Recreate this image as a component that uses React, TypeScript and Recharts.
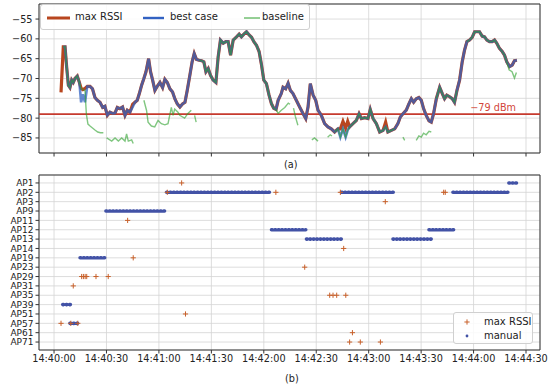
import React from 'react';
import {
  ComposedChart,
  Line,
  Scatter,
  XAxis,
  YAxis,
  CartesianGrid,
  ReferenceLine,
  ReferenceArea,
} from 'recharts';

const FONT = '"DejaVu Sans", sans-serif';

// ---- shared time axis (seconds after 14:40:00) ----
const timeTicks = [0, 30, 60, 90, 120, 150, 180, 210, 240, 270];
const timeLabels = [
  '14:40:00', '14:40:30', '14:41:00', '14:41:30', '14:42:00',
  '14:42:30', '14:43:00', '14:43:30', '14:44:00', '14:44:30',
];
const timeDomain: [number, number] = [-8.6, 278];

// ---- panel (a): RSSI traces ----
const rssiTicks = [-85, -80, -75, -70, -65, -60, -55];
const rssiDomain: [number, number] = [-88.8, -51.2];
const thresholdDbm = -79;

const sampleTimes = [
  4.0, 5.3, 6.3, 7.2, 8.2, 9.1, 10.1, 11, 12, 13.3, 14.5, 15.5, 16.5, 17.7, 19, 20.6, 22, 23.4, 24.8, 26.3,
  27.8, 29.1, 30.5, 32, 33.5, 34.9, 36.2, 37.7, 39.2, 40.6, 41.9, 43.4, 45, 46.3, 47.6, 48.8, 50.1, 51.4, 52.6, 54.1,
  55.2, 56.4, 57.7, 59, 60.6, 62.1, 63.4, 64.8, 66.3, 67.8, 69.1, 70.5, 72, 73.5, 74.9, 76.2, 77.7, 79, 80.2, 81.5,
  83, 84.4, 85.7, 86.9, 88.2, 89.5, 91, 92.6, 93.9, 95.2, 96.8, 98.3, 99.6, 101, 102.5, 104.4, 105.9, 107.2, 108.6, 110.1,
  111.6, 113, 114.3, 115.8, 117.3, 118.7, 120, 121.5, 123, 124.4, 125.7, 127, 128.2, 130, 131, 132.5, 133.9, 135.2, 136.7, 138.6,
  140.5, 142.5, 144, 145.3, 146.6, 148.2, 149.7, 151, 152.9, 154.8, 156.7, 158.6, 160.5, 162.4, 163.8, 165.3, 166.8, 168, 169.1, 171,
  172.9, 174.5, 175.8, 177.7, 179.6, 180.9, 182.5, 184.4, 186.3, 188.2, 189.7, 191, 193, 194.9, 196.7, 198.1, 199.6, 201.5, 203, 204.4,
  205.7, 207.2, 208.7, 210.1, 211.4, 212.9, 214.5, 215.8, 217.1, 218.7, 220.6, 222.1, 223.4, 224.7, 226.3, 227.8, 229.1, 230.5, 232, 233.5,
  234.8, 236.2, 237.7, 239.2, 240.6, 241.9, 243.4, 244.9, 246.3, 247.6, 249.1, 250.7, 252, 253.3, 254.8, 256.4, 257.7, 259, 260.6, 262.1,
  263.4, 264.8,
];

const maxRssi = [
  -73.5, -62, -62, -67, -71.7, -72.3, -70.4, -71, -70, -69.4, -71, -72.5, -72.8, -72.5, -72, -72, -72.6, -74.8, -75.5, -76,
  -77.3, -77, -79.3, -78.5, -78.8, -78.7, -77.3, -77.6, -77.2, -79.3, -78, -78.5, -76.5, -76, -75.5, -73.8, -71.7, -70, -68.3, -65,
  -68.3, -70.4, -73, -72, -71, -72.3, -70.2, -71, -72.6, -73.4, -75.1, -76.4, -77.2, -76.4, -76, -73, -69.2, -65.8, -63.7, -65.2,
  -65.4, -65.5, -65.8, -68.3, -67.5, -69.2, -70.4, -71, -64.5, -60.3, -61.1, -60.7, -60.7, -64.1, -60.3, -59.5, -58.8, -59.5, -58.8, -58.2,
  -59, -59.6, -60.7, -61.6, -63.2, -66.6, -70.4, -71.3, -74.2, -76.4, -77.5, -77.8, -75.5, -73.8, -72.2, -72.6, -71.2, -73, -73.8, -75.5,
  -77.2, -78.9, -80.1, -77.2, -71.3, -74.2, -75.5, -78, -79.3, -81.4, -82.2, -82.7, -83.5, -82.7, -82.7, -80.8, -82.5, -80.8, -82.2, -81.4,
  -80.6, -78.9, -80.1, -79.9, -80.1, -77.8, -80.1, -81.4, -83.5, -83.1, -81, -83.5, -83.1, -82.7, -81.4, -79.7, -78.9, -78, -76.4, -75.1,
  -76, -75.1, -74.8, -75.5, -77.6, -79.3, -80.7, -81, -78.9, -75.1, -72.2, -73.8, -75.1, -74.2, -74.6, -75.1, -76, -73, -70.4, -65.8,
  -62.9, -60.7, -60.3, -59.6, -58.2, -58.2, -58.2, -59.3, -59.5, -60.3, -60.7, -60.7, -60.3, -61.1, -62.4, -63.2, -64.1, -65.8, -67, -66.6,
  -65.5, -65.4,
];

const bestCase = [
  null, -62, -62, -67, -71.7, -72.3, -70.4, -71, -70, -69.4, -71, -76, -74, -76, -72, -72, -72.6, -74.8, -75.5, -76,
  -77.3, -77, -79.3, -78.5, -78.8, -78.7, -77.3, -77.6, -77.2, -79.3, -78, -78.5, -77.2, -76, -75.5, -73.8, -71.7, -70, -68.3, -65,
  -68.3, -70.4, -73, -72, -71, -72.3, -70.2, -71, -72.6, -73.4, -75.1, -76.4, -77.2, -76.4, -76, -73, -69.2, -65.8, -63.7, -65.2,
  -65.4, -65.5, -65.8, -68.3, -67.5, -69.2, -70.4, -71, -64.5, -60.3, -61.1, -60.7, -60.7, -64.1, -60.3, -59.5, -58.8, -59.5, -58.8, -58.2,
  -59, -59.6, -60.7, -61.6, -63.2, -66.6, -70.4, -71.3, -74.2, -76.4, -77.5, -77.8, -75.5, -73.8, -72.2, -72.6, -71.2, -73, -73.8, -75.5,
  -77.2, -78.9, -80.1, -77.2, -71.3, -74.2, -75.5, -78, -79.3, -81.4, -82.2, -82.7, -83.5, -82.7, -84.8, -82.7, -84.8, -83, -82.2, -81.4,
  -80.6, -78.9, -80.1, -79.9, -80.1, -77.8, -80.1, -81.4, -83.5, -83.1, -82.2, -83.5, -83.1, -82.7, -81.4, -79.7, -78.9, -78, -76.4, -75.1,
  -76, -75.1, -74.8, -75.5, -77.6, -79.3, -80.7, -81, -78.9, -75.1, -72.2, -73.8, -75.1, -74.2, -74.6, -75.1, -76, -73, -70.4, -65.8,
  -62.9, -60.7, -60.3, -59.6, -58.2, -58.2, -58.2, -59.3, -59.5, -60.3, -60.7, -60.7, -60.3, -61.1, -62.4, -63.2, -64.1, -65.8, -67, -66.6,
  -65.5, -65.4,
];

const baselineTimes = [
  5.3, 6.3, 7.2, 8.2, 9.1, 10.1, 11, 12, 13.3, 14.5, 15.5, 16.5, 17.7, 18.5, 19.4, 20.6, 22, 23.4, 25, 26.5, 28.2, 29,
  30.1, 33, 34.9, 36.8, 38.7, 40.6, 41.5, 42.5, 44.4, 45.3, 48,
  51.4, 52.9, 53.8, 55.7, 57.6, 59.5, 61.4, 63.4, 65.2, 67.1, 68.1, 69, 70.9, 71.9, 74.7, 76.6, 78.5, 79.5,
  80.4, 81.3, 82,
  83, 84.4, 85.7, 86.9, 88.2, 89.5, 91, 92.6, 93.9, 95.2, 96.8, 98.3, 99.6, 101, 102.5, 104.4, 105.9, 107.2, 108.6, 110.1,
  111.6, 113, 114.3, 115.8, 117.3, 118.7, 120, 121.5, 123, 124.4, 125.7, 127, 128.2, 130, 132, 134, 135, 136,
  137, 138, 139.5, 143, 147.5, 149, 151, 153, 156.5, 158, 159, 159.8,
  160.5, 162.4, 163.8, 165.3, 166.8, 168, 169.1, 171, 172.9, 174.5, 175.8, 177.7, 179.6, 180.9, 182.5, 184.4, 186.3, 188.2, 189.7,
  191, 193, 194.9, 197, 199.6, 200.6, 204,
  207.2, 208.7, 210.1, 211.4, 212.9, 214.5, 215.8, 217,
  218.7, 220.6, 222.1, 223.4, 224.7, 226.3, 227.8, 229.1, 230.5, 231,
  236.2, 237.7, 239.2, 240.6, 241.9, 243.4, 244.9, 246.3, 247.6, 249.1, 250.7, 252, 253.3, 254.8, 256.4, 257.7,
  259, 260.3, 262, 263.4, 264.5,
];

const baseline = [
  -62, -62, -67, -71.7, -72.3, -70.4, -71, -70, -69.4, -71, -72.5, -72.8, -73, -79, -81.5, -82, -82.5, -83, -83.5, -83.7, -83.7, null,
  -85, -85.8, -85, -85.8, -85, -85.8, -84, -85.8, -85.5, -86.4, null,
  -75.5, -78, -81, -82, -82.2, -80.6, -81.4, -81.7, -81.4, -77.3, -79.3, -77.7, -78.5, -79.3, -80, -78.8, -78, null,
  -79.3, -81, null,
  -65.4, -65.5, -65.8, -68.3, -67.5, -69.2, -70.4, -71, -64.5, -60.3, -61.1, -60.7, -60.7, -64.1, -60.3, -59.5, -58.8, -59.5, -58.8, -58.2,
  -59, -59.6, -60.7, -61.6, -63.2, -66.6, -70.4, -71.3, -74.2, -76.4, -77.5, -77.8, -78.8, -78, -77.3, -76.2, -76.5, null,
  -77.5, -79.5, -81.8, null, -85.5, -85, -85.8, null, -84.8, -84.2, -84.5, null,
  -83.5, -82.7, -84.8, -82.7, -84.8, -83, -82.2, -81.4, -80.6, -78.9, -80.1, -79.9, -80.1, -77.8, -80.1, -81.4, -83.5, -83.1, -82.2,
  -83.5, -83.1, -82.7, null, -84.8, -85.6, null,
  -85.6, -84.5, -84.8, -83.8, -84.2, -83.3, -83.5, null,
  -75.1, -72.2, -73.8, -75.1, -74.2, -74.6, -75.1, -76, -73, null,
  -60.7, -60.3, -59.6, -58.2, -58.2, -58.2, -59.3, -59.5, -60.3, -60.7, -60.7, -60.3, -61.1, -62.4, -63.2, -64.1,
  -65.8, -67.8, -68.3, -69.9, -68.5,
];

// ---- panel (b): associated access point ----
const apLabels = [
  'AP1', 'AP2', 'AP3', 'AP9', 'AP11', 'AP12', 'AP13', 'AP14', 'AP19',
  'AP23', 'AP29', 'AP31', 'AP35', 'AP39', 'AP51', 'AP57', 'AP61', 'AP71',
];

const maxRssiApTimes = [
  73, 64.8, 126.9, 163.8, 222.9, 223.8, 189.5, 42.1, 165.7, 45.3, 143.4,
  15.8, 16.8, 17.8, 18.7, 24, 31, 11, 157.7, 159.6, 161.7, 166.9, 75.2, 4, 9.6, 13.6, 170.7, 169.1, 175.2, 186.7,
];
const maxRssiApNames = [
  'AP1', 'AP2', 'AP2', 'AP2', 'AP2', 'AP2', 'AP3', 'AP11', 'AP14', 'AP19', 'AP23',
  'AP29', 'AP29', 'AP29', 'AP29', 'AP29', 'AP29', 'AP31', 'AP35', 'AP35', 'AP35', 'AP35', 'AP51', 'AP57', 'AP57', 'AP57', 'AP61', 'AP71', 'AP71', 'AP71',
];

const manualRunAps = ['AP1', 'AP2', 'AP2', 'AP2', 'AP9', 'AP12', 'AP12', 'AP13', 'AP13', 'AP19', 'AP39', 'AP57'];
const manualRunStarts = [260.2, 64.4, 164.4, 228.2, 29.7, 124.4, 214.5, 144.4, 193.9, 14.9, 5, 9.1];
const manualRunEnds = [265.3, 123.8, 194.3, 259.6, 64.4, 144, 229.1, 164.4, 215.8, 30.1, 9.5, 14.9];

// ---- colours ----
const C_MAX = '#b8461f';
const C_BEST = '#3262c2';
const C_BASE = '#2ca02c';
const C_THRESH = '#c63a2e';
const C_PLUS = '#c8602a';
const C_MANUAL = '#4252a6';
const GRID = '#d4d4d4';
const FRAME = '#333';

// ---- derived tables ----
const maxData = sampleTimes.map((t, i) => ({ t, v: maxRssi[i] }));
const bestData = sampleTimes.map((t, i) => ({ t, v: bestCase[i] }));
const baseData = baselineTimes.map((t, i) => ({ t, v: baseline[i] }));
const plusData = maxRssiApTimes.map((t, i) => ({ t, y: apLabels.indexOf(maxRssiApNames[i]) }));
const runs = manualRunAps.map((ap, i) => ({
  key: `${ap}-${i}`,
  data: [
    { t: manualRunStarts[i], y: apLabels.indexOf(ap) },
    { t: manualRunEnds[i], y: apLabels.indexOf(ap) },
  ],
}));
const apIdx = apLabels.map((_, i) => i);
const apDomain: [number, number] = [-0.85, apLabels.length - 1 + 0.85];

const tickStyle = { fontSize: 9.7, fill: '#222', fontFamily: FONT };

const PlusShape = (props: any) => {
  const { cx, cy } = props;
  if (cx == null || cy == null) return <g />;
  const r = 2.6;
  return (
    <path
      d={`M${cx - r},${cy}H${cx + r}M${cx},${cy - r}V${cy + r}`}
      stroke={C_PLUS}
      strokeWidth={1}
      fill="none"
    />
  );
};

const ThresholdLabel = (props: any) => {
  const vb = props.viewBox || {};
  return (
    <text
      x={vb.x + vb.width - 24}
      y={vb.y - 3.5}
      textAnchor="end"
      fill="#d2463a"
      fontSize={9.7}
      fontFamily={FONT}
    >
      {'\u221279 dBm'}
    </text>
  );
};

const legendBox: React.CSSProperties = {
  position: 'absolute',
  background: 'rgba(255,255,255,0.85)',
  border: '1px solid #d0d0d0',
  borderRadius: 3,
  fontFamily: FONT,
  fontSize: 10,
  color: '#222',
  boxSizing: 'border-box',
};

const Swatch = ({ color, width, thick }: { color: string; width: number; thick: number }) => (
  <svg width={width} height={8} style={{ display: 'block' }}>
    <line x1={0} y1={4} x2={width} y2={4} stroke={color} strokeWidth={thick} />
  </svg>
);

export default function App() {
  return (
    <div style={{ position: 'absolute', left: 0, top: 0, width: 550, height: 388, background: '#fff' }}>
      {/* Panel (a) */}
      <div style={{ position: 'absolute', left: 0, top: 0 }}>
        <ComposedChart width={550} height={160} margin={{ top: 4, right: 10, bottom: 0, left: 0 }}>
          <CartesianGrid stroke={GRID} strokeWidth={0.8} />
          <XAxis
            dataKey="t"
            type="number"
            domain={timeDomain}
            ticks={timeTicks}
            allowDataOverflow
            tickFormatter={() => ''}
            height={7}
            tickSize={3.5}
            axisLine={false}
            tickLine={{ stroke: FRAME }}
          />
          <YAxis
            type="number"
            domain={rssiDomain}
            ticks={rssiTicks}
            allowDataOverflow
            width={39}
            tickSize={3.5}
            tickMargin={3}
            axisLine={false}
            tickLine={{ stroke: FRAME }}
            tick={tickStyle}
            interval={0}
            tickFormatter={(v: number) => String(v).replace('-', '\u2212')}
          />
          <ReferenceLine y={thresholdDbm} stroke={C_THRESH} strokeWidth={1.6} label={<ThresholdLabel />} />
          <Line data={maxData} dataKey="v" name="max RSSI" type="linear" stroke={C_MAX} strokeWidth={3.2}
            dot={false} isAnimationActive={false} />
          <Line data={bestData} dataKey="v" name="best case" type="linear" stroke={C_BEST} strokeWidth={2.6}
            strokeOpacity={0.75} dot={false} isAnimationActive={false} />
          <Line data={baseData} dataKey="v" name="baseline" type="linear" stroke={C_BASE} strokeWidth={1.4}
            strokeOpacity={0.6} dot={false} isAnimationActive={false} />
          <ReferenceArea x1={timeDomain[0]} x2={timeDomain[1]} y1={rssiDomain[0]} y2={rssiDomain[1]}
            fill="none" stroke={FRAME} strokeWidth={1} />
        </ComposedChart>
      </div>

      <div style={{ ...legendBox, left: 40, top: 4, width: 270, height: 26 }}>
        <div style={{ position: 'absolute', left: 6, top: 9 }}><Swatch color={C_MAX} width={23} thick={3} /></div>
        <div style={{ position: 'absolute', left: 34, top: 5, lineHeight: '14px' }}>max RSSI</div>
        <div style={{ position: 'absolute', left: 102, top: 9 }}><Swatch color={C_BEST} width={21} thick={2.4} /></div>
        <div style={{ position: 'absolute', left: 129, top: 5, lineHeight: '14px' }}>best case</div>
        <div style={{ position: 'absolute', left: 203, top: 9 }}><Swatch color={C_BASE} width={16} thick={1} /></div>
        <div style={{ position: 'absolute', left: 221, top: 5, lineHeight: '14px' }}>baseline</div>
      </div>

      <div style={{ position: 'absolute', left: 284, top: 159, fontFamily: FONT, fontSize: 9.7, color: '#222', lineHeight: '12px' }}>(a)</div>

      {/* Panel (b) */}
      <div style={{ position: 'absolute', left: 0, top: 170 }}>
        <ComposedChart width={550} height={200} margin={{ top: 5, right: 10, bottom: 0, left: 0 }}>
          <CartesianGrid stroke={GRID} strokeWidth={0.8} />
          <XAxis
            dataKey="t"
            type="number"
            domain={timeDomain}
            ticks={timeTicks}
            allowDataOverflow
            height={20}
            tickSize={3.5}
            tickMargin={2}
            axisLine={false}
            tickLine={{ stroke: FRAME }}
            tick={tickStyle}
            interval={0}
            tickFormatter={(v: number) => timeLabels[timeTicks.indexOf(v)]}
          />
          <YAxis
            dataKey="y"
            type="number"
            domain={apDomain}
            reversed
            ticks={apIdx}
            allowDataOverflow
            width={39}
            tickSize={3.5}
            tickMargin={2}
            axisLine={false}
            tickLine={{ stroke: FRAME }}
            tick={{ ...tickStyle, fontSize: 9 }}
            interval={0}
            tickFormatter={(v: number) => apLabels[v]}
          />
          {runs.map((r) => (
            <Line key={r.key} data={r.data} dataKey="y" type="linear" stroke={C_MANUAL} strokeWidth={3.6}
              strokeDasharray="0.8 2.6" strokeLinecap="round" dot={false} isAnimationActive={false} legendType="none" />
          ))}
          <Scatter data={plusData} dataKey="y" name="max RSSI" shape={PlusShape} isAnimationActive={false} />
          <ReferenceArea x1={timeDomain[0]} x2={timeDomain[1]} y1={apDomain[0]} y2={apDomain[1]}
            fill="none" stroke={FRAME} strokeWidth={1} />
        </ComposedChart>
      </div>

      <div style={{ ...legendBox, left: 453, top: 312, width: 80, height: 32 }}>
        <svg width={10} height={10} style={{ position: 'absolute', left: 8, top: 4 }}>
          <path d="M2.4,5H7.6M5,2.4V7.6" stroke={C_PLUS} strokeWidth={1} fill="none" />
        </svg>
        <div style={{ position: 'absolute', left: 30, top: 2, lineHeight: '13px' }}>max RSSI</div>
        <svg width={10} height={10} style={{ position: 'absolute', left: 8, top: 18 }}>
          <circle cx={5} cy={5} r={1.4} fill={C_MANUAL} />
        </svg>
        <div style={{ position: 'absolute', left: 30, top: 16, lineHeight: '13px' }}>manual</div>
      </div>

      <div style={{ position: 'absolute', left: 285, top: 373, fontFamily: FONT, fontSize: 9.7, color: '#222', lineHeight: '12px' }}>(b)</div>
    </div>
  );
}
